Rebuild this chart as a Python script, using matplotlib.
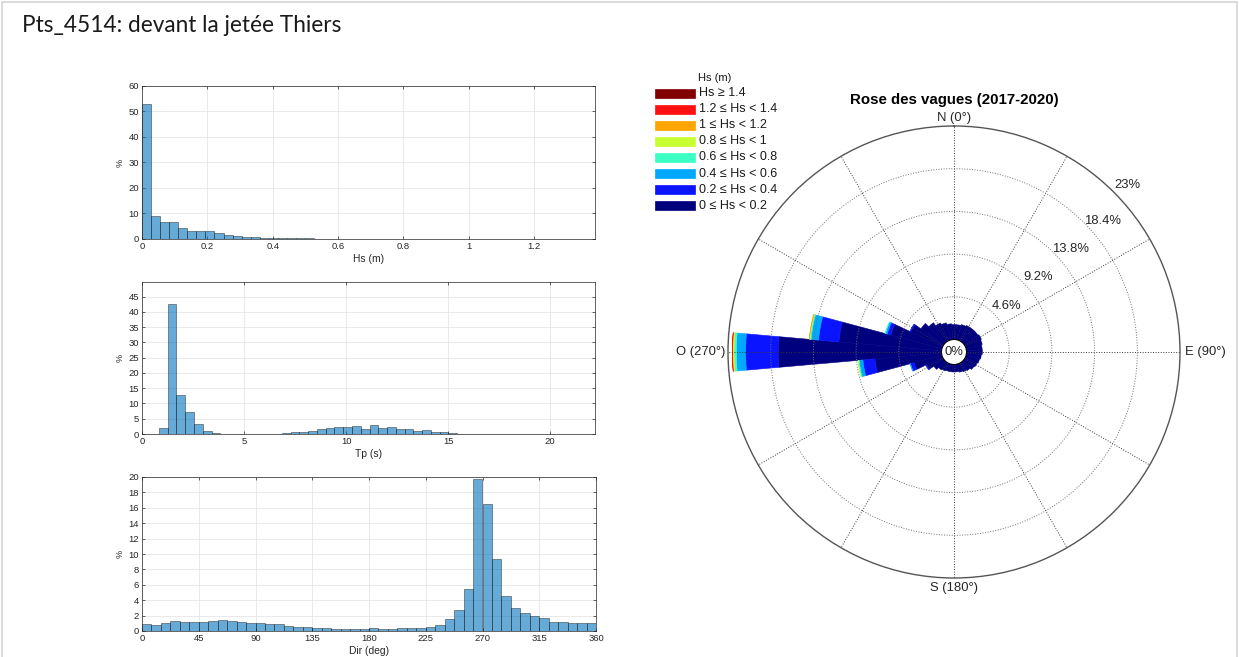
import matplotlib.pyplot as plt
import numpy as np
from matplotlib.patches import Rectangle

plt.rcParams["font.family"] = ["Liberation Sans", "DejaVu Sans"]

# ---- histogram data ----
hs_start, hs_width = 0.0, 0.02772
hs_pct = [53.0, 9.2, 6.5, 6.8, 4.2, 3.1, 3.1, 3.1, 2.2, 1.4,
          1.2, 0.9, 0.65, 0.5, 0.5, 0.4, 0.3, 0.25, 0.2, 0.15,
          0.12, 0.1, 0.08, 0.07, 0.06, 0.05, 0.05, 0.04, 0.04, 0.03,
          0.03, 0.03, 0.02, 0.02, 0.02, 0.02, 0.01, 0.01, 0.01, 0.01,
          0.01, 0.01, 0.01, 0.01, 0.01, 0.005, 0.005, 0.005, 0.005, 0.005]

tp_start, tp_width = 0.83, 0.43
tp_pct = [2.0, 42.6, 12.8, 7.1, 3.3, 1.0, 0.2, 0.1, 0.05, 0.05,
          0.05, 0.05, 0.05, 0.1, 0.2, 0.5, 0.6, 1.0, 1.7, 2.0,
          2.2, 2.2, 2.5, 1.8, 3.0, 2.1, 2.2, 1.5, 1.7, 1.0,
          1.3, 0.5, 0.5, 0.2, 0.1, 0.1, 0.1, 0.05, 0.05, 0.05,
          0.05, 0.05, 0.05, 0.03, 0.03, 0.03, 0.02, 0.02, 0.02, 0.02]

dir_start, dir_width = 0.0, 7.5
dir_pct = [0.96, 0.8, 1.05, 1.25, 1.2, 1.15, 1.2, 1.3, 1.45, 1.35,
           1.2, 1.05, 1.05, 0.9, 0.85, 0.7, 0.55, 0.5, 0.4, 0.35,
           0.25, 0.25, 0.25, 0.3, 0.35, 0.2, 0.2, 0.35, 0.35, 0.35,
           0.55, 0.8, 1.5, 2.7, 5.4, 19.7, 16.45, 9.3, 4.55, 3.05,
           2.35, 2.0, 1.7, 1.15, 1.15, 1.1, 1.0, 1.0]

# ---- wave rose data: % per 10 deg sector, by Hs class ----
rose_dirs = np.arange(0, 360, 10)
rose_00_02 = [1.6, 1.6, 1.7, 1.8, 1.8, 1.8, 1.9, 1.8, 1.7, 1.7,
              1.6, 1.5, 1.4, 1.3, 1.1, 1.0, 0.9, 0.8, 0.8, 0.8,
              0.8, 0.9, 1.0, 1.3, 1.9, 3.1, 7.2, 17.6, 11.1, 5.7,
              3.8, 3.0, 2.5, 2.1, 1.9, 1.7]
rose_02_04 = [0] * 24 + [0.1, 0.4, 1.3, 3.5, 2.2, 0.4, 0.1, 0, 0, 0, 0, 0]
rose_04_06 = [0] * 25 + [0.05, 0.4, 1.0, 0.8, 0.2, 0, 0, 0, 0, 0, 0]
rose_06_08 = [0] * 26 + [0.1, 0.25, 0.12, 0.03, 0, 0, 0, 0, 0, 0]
rose_08_10 = [0] * 26 + [0.03, 0.12, 0.06, 0, 0, 0, 0, 0, 0, 0]
rose_10_12 = [0] * 27 + [0.05, 0.02, 0, 0, 0, 0, 0, 0, 0]
rose_12_14 = [0] * 27 + [0.02, 0, 0, 0, 0, 0, 0, 0, 0]
rose_14_up = [0] * 36

rose_classes = [rose_00_02, rose_02_04, rose_04_06, rose_06_08,
                rose_08_10, rose_10_12, rose_12_14, rose_14_up]
class_labels = ["0 \u2264 Hs < 0.2", "0.2 \u2264 Hs < 0.4", "0.4 \u2264 Hs < 0.6",
                "0.6 \u2264 Hs < 0.8", "0.8 \u2264 Hs < 1", "1 \u2264 Hs < 1.2",
                "1.2 \u2264 Hs < 1.4", "Hs \u2265 1.4"]
class_colors = ["#00007f", "#0a14ff", "#00a8ff", "#3cffc4",
                "#c8ff32", "#ffa500", "#ff1010", "#800000"]
rings = [4.6, 9.2, 13.8, 18.4, 23]

W, H = 1239, 657
fig = plt.figure(figsize=(W / 100, H / 100), dpi=100)


def px_axes(left, top, right, bottom, **kw):
    return fig.add_axes([left / W, 1 - bottom / H, (right - left) / W, (bottom - top) / H], **kw)


# slide frame + title
fig.patches.append(Rectangle((2 / W, -0.01), (W - 4) / W, 1 - 2 / H + 0.01,
                             transform=fig.transFigure, fill=False,
                             edgecolor="#d4d4d4", linewidth=1.2))
fig.text(22 / W, 1 - 25 / H, "Pts_4514: devant la jet\u00e9e Thiers",
         family="Lato", fontsize=16.3, va="center", ha="left", color="#1a1a1a")


def hist_axes(ax, start, width, values, xlim, ylim, xticks, xlabels, yticks, xlabel):
    edges = start + width * np.arange(len(values))
    ax.bar(edges, values, width=width, align="edge", color="#0072BD", alpha=0.6,
           edgecolor="#111111", linewidth=0.5)
    ax.set_xlim(*xlim)
    ax.set_ylim(*ylim)
    ax.set_xticks(xticks)
    ax.set_xticklabels(xlabels)
    ax.set_yticks(yticks)
    ax.tick_params(direction="in", length=2.5, width=0.5, labelsize=6.8,
                   colors="#262626", top=True, right=True, pad=2)
    ax.grid(True, color="#e2e2e2", linewidth=0.5)
    ax.set_axisbelow(True)
    for s in ax.spines.values():
        s.set_linewidth(0.5)
        s.set_color("#262626")
    ax.set_xlabel(xlabel, fontsize=7.4, color="#262626", labelpad=2)
    ax.set_ylabel("%", fontsize=6.5, color="#262626", labelpad=3)


ax1 = px_axes(142, 86, 595, 239)
hist_axes(ax1, hs_start, hs_width, hs_pct, (0, 1.386), (0, 60),
          [0, 0.2, 0.4, 0.6, 0.8, 1, 1.2], ["0", "0.2", "0.4", "0.6", "0.8", "1", "1.2"],
          np.arange(0, 61, 10), "Hs (m)")

ax2 = px_axes(142, 282, 595, 434)
hist_axes(ax2, tp_start, tp_width, tp_pct, (0, 22.2), (0, 49.8),
          [0, 5, 10, 15, 20], ["0", "5", "10", "15", "20"],
          np.arange(0, 46, 5), "Tp (s)")

ax3 = px_axes(142, 477, 596, 631)
hist_axes(ax3, dir_start, dir_width, dir_pct, (0, 360), (0, 20),
          np.arange(0, 361, 45), [str(v) for v in range(0, 361, 45)],
          np.arange(0, 21, 2), "Dir (deg)")

# ---- wave rose ----
R = 226
cx, cy = 954, 352
axp = px_axes(cx - R, cy - R, cx + R, cy + R, projection="polar")
axp.set_theta_zero_location("N")
axp.set_theta_direction(-1)
axp.set_ylim(0, 23)
axp.set_rorigin(-1.35)

theta = np.deg2rad(rose_dirs)
bottom = np.zeros(len(rose_dirs))
for vals, col in zip(rose_classes, class_colors):
    vals = np.asarray(vals, dtype=float)
    keep = vals > 0
    if keep.any():
        axp.bar(theta[keep], vals[keep], width=np.deg2rad(10), bottom=bottom[keep],
                color=col, edgecolor=col, linewidth=0.4, zorder=1)
    bottom = bottom + vals

axp.set_xticks(np.deg2rad(np.arange(0, 360, 30)))
axp.set_xticklabels([])
axp.set_yticks(rings[:-1])
axp.set_yticklabels([])
axp.set_axisbelow(False)
axp.xaxis.grid(True, linestyle=":", color="#3a3a3a", linewidth=0.7)
axp.yaxis.grid(True, linestyle=":", color="#707070", linewidth=0.7)
axp.spines["polar"].set_color("#555555")
axp.spines["polar"].set_linewidth(1.0)
axp.spines["inner"].set_visible(False)

lab_kw = dict(fontsize=9.4, color="#262626")
for r in rings[:-1]:
    axp.text(np.deg2rad(48.5), r + 1.6, f"{r}%", ha="center", va="center", **lab_kw)
axp.text(np.deg2rad(46), 24.6, "23%", ha="center", va="center", **lab_kw)
axp.text(0, 23.2, "N (0\u00b0)", ha="center", va="bottom", **lab_kw)
axp.text(np.pi / 2, 23.5, "E (90\u00b0)", ha="left", va="center", **lab_kw)
axp.text(np.pi, 23.4, "S (180\u00b0)", ha="center", va="top", **lab_kw)
axp.text(3 * np.pi / 2, 23.3, "O (270\u00b0)", ha="right", va="center", **lab_kw)
axp.text(0.5, 0.5, "0%", transform=axp.transAxes, ha="center", va="center", **lab_kw)
fig.text(954 / W, 1 - 100 / H, "Rose des vagues (2017-2020)", fontsize=10.8,
         fontweight="bold", ha="center", va="center")

# ---- legend ----
fig.text(698 / W, 1 - 78 / H, "Hs (m)", fontsize=8, ha="left", va="center", color="#1a1a1a")
for i, (lab, col) in enumerate(zip(class_labels[::-1], class_colors[::-1])):
    yc = 93.5 + 16 * i
    fig.patches.append(Rectangle((655 / W, 1 - (yc + 4.5) / H), 40 / W, 9 / H,
                                 transform=fig.transFigure, facecolor=col,
                                 edgecolor=col, linewidth=0.5))
    fig.text(699 / W, 1 - yc / H, lab, fontsize=9.0, ha="left", va="center", color="#1a1a1a")

fig.savefig("out.png", dpi=100)
